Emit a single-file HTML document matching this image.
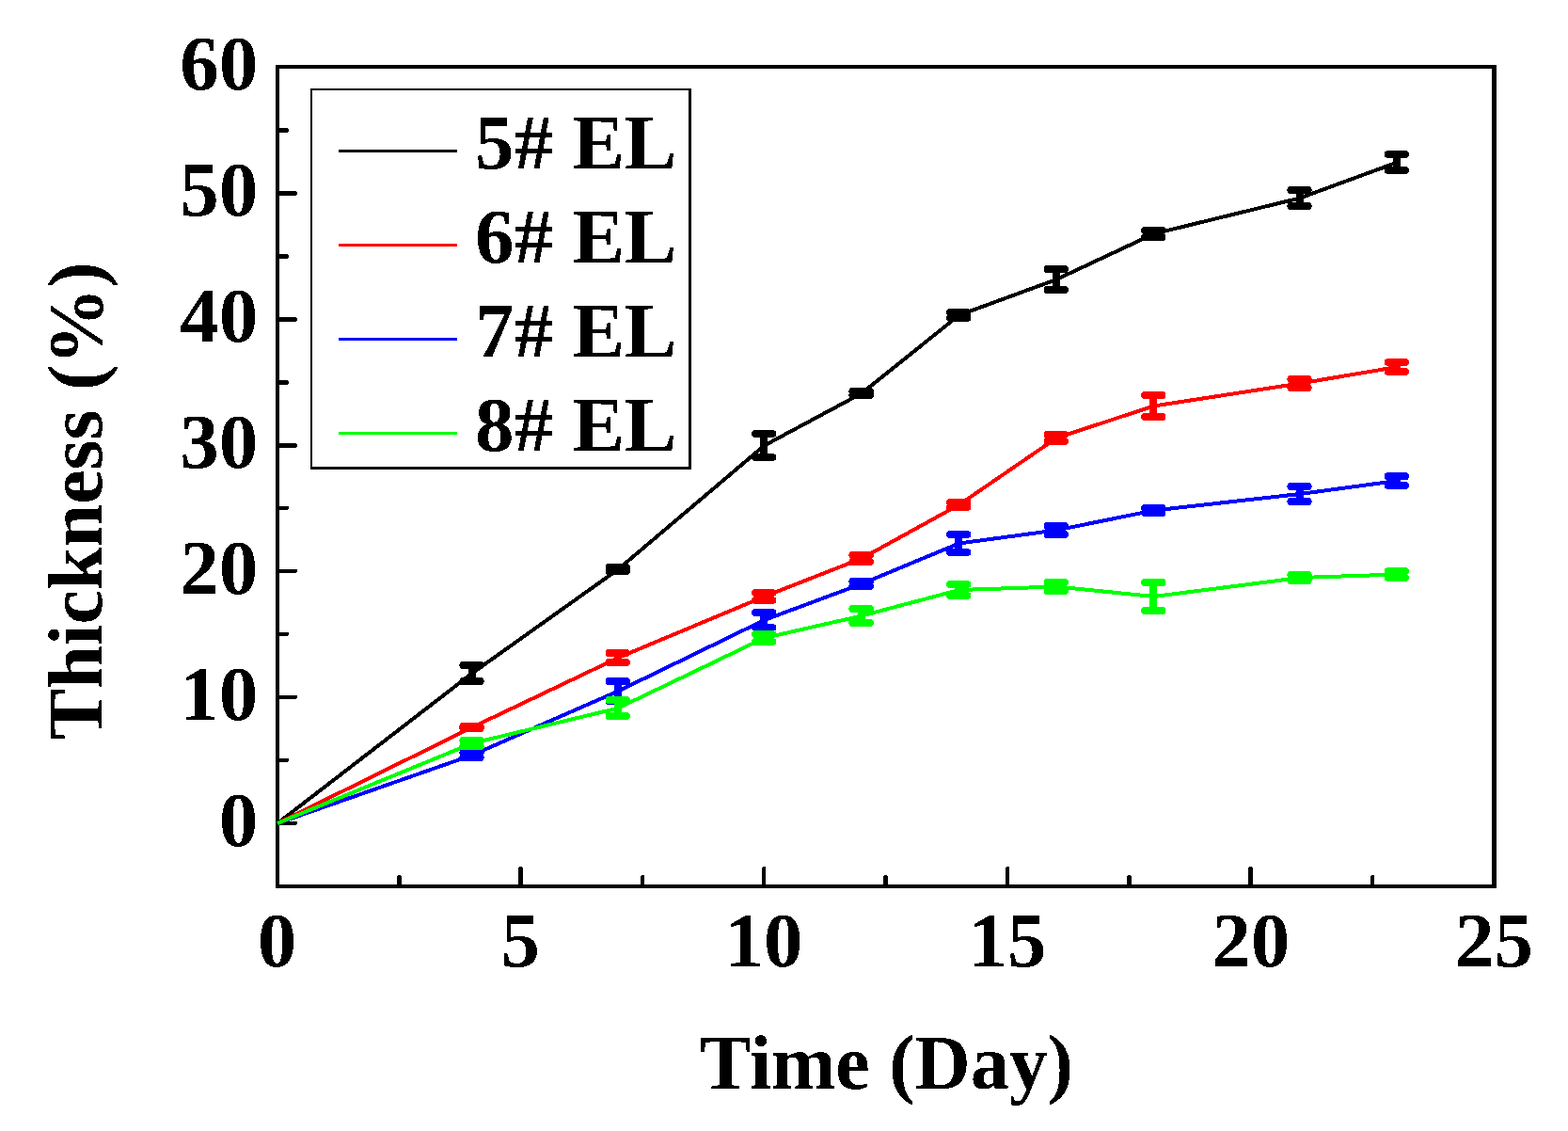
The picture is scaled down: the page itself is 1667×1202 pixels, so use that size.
<!DOCTYPE html>
<html lang="en"><head><meta charset="utf-8"><title>Thickness (%) vs Time (Day)</title>
<style>
html,body{margin:0;padding:0;background:#fff;}
body{width:1667px;height:1202px;overflow:hidden;}
svg{display:block;}
text{font-family:"Liberation Serif",serif;font-weight:bold;fill:#000;}
</style>
</head><body>
<svg width="1667" height="1202" viewBox="0 0 1667 1202" shape-rendering="crispEdges">
<defs><filter id="bw" x="-5%" y="-5%" width="110%" height="110%" color-interpolation-filters="sRGB"><feComponentTransfer><feFuncA type="discrete" tableValues="0 1"/></feComponentTransfer></filter></defs>
<rect x="0" y="0" width="1667" height="1202" fill="#fff"/>
<!-- axis ticks -->
<path d="M296 875H314M296 808H305M296 741H314M296 674H305M296 607H314M296 540H305M683 941V932M812 941V923M1071 941V923M1459 941V932" stroke="#000" stroke-width="4" stroke-linecap="round" fill="none"/>
<path d="M296 473.5H313.5M296 406.5H304.5M296 339.5H313.5M296 272.5H304.5M296 205.5H313.5M296 138.5H304.5M424.5 941V932.5M553.5 941V923.5M941.5 941V932.5M1200.5 941V932.5M1329.5 941V923.5" stroke="#000" stroke-width="5" stroke-linecap="round" fill="none"/>
<!-- plot frame -->
<g fill="#000">
<rect x="293" y="69" width="1298" height="4"/>
<rect x="293" y="940" width="1298" height="4"/>
<rect x="293" y="69" width="4" height="875"/>
<rect x="1586" y="69" width="5" height="875"/>
</g>
<!-- series 5# EL -->
<polyline fill="none" stroke="#000000" stroke-width="4" stroke-linejoin="round" points="295.0,875.0 502.0,715.5 657.3,605.0 812.6,473.5 916.1,418.0 1019.6,335.0 1123.2,297.0 1226.7,248.5 1382.0,210.5 1485.5,172.5"/>
<g fill="#000000">
<rect x="488.3" y="703.0" width="26.4" height="8" rx="4" ry="4"/>
<rect x="488.3" y="720.0" width="26.4" height="8" rx="4" ry="4"/>
<rect x="497.5" y="707.0" width="8" height="17.0"/>
<rect x="643.6" y="599.0" width="26.4" height="8" rx="4" ry="4"/>
<rect x="643.6" y="603.0" width="26.4" height="8" rx="4" ry="4"/>
<rect x="652.8" y="603.0" width="8" height="4.0"/>
<rect x="798.9" y="457.0" width="26.4" height="8" rx="4" ry="4"/>
<rect x="798.9" y="482.0" width="26.4" height="8" rx="4" ry="4"/>
<rect x="808.1" y="461.0" width="8" height="25.0"/>
<rect x="902.4" y="412.0" width="26.4" height="8" rx="4" ry="4"/>
<rect x="902.4" y="416.0" width="26.4" height="8" rx="4" ry="4"/>
<rect x="911.6" y="416.0" width="8" height="4.0"/>
<rect x="1005.9" y="328.0" width="26.4" height="8" rx="4" ry="4"/>
<rect x="1005.9" y="334.0" width="26.4" height="8" rx="4" ry="4"/>
<rect x="1015.1" y="332.0" width="8" height="6.0"/>
<rect x="1109.5" y="282.0" width="26.4" height="8" rx="4" ry="4"/>
<rect x="1109.5" y="304.0" width="26.4" height="8" rx="4" ry="4"/>
<rect x="1118.7" y="286.0" width="8" height="22.0"/>
<rect x="1213.0" y="241.0" width="26.4" height="8" rx="4" ry="4"/>
<rect x="1213.0" y="248.0" width="26.4" height="8" rx="4" ry="4"/>
<rect x="1222.2" y="245.0" width="8" height="7.0"/>
<rect x="1368.3" y="198.0" width="26.4" height="8" rx="4" ry="4"/>
<rect x="1368.3" y="215.0" width="26.4" height="8" rx="4" ry="4"/>
<rect x="1377.5" y="202.0" width="8" height="17.0"/>
<rect x="1471.8" y="160.0" width="26.4" height="8" rx="4" ry="4"/>
<rect x="1471.8" y="177.0" width="26.4" height="8" rx="4" ry="4"/>
<rect x="1481.0" y="164.0" width="8" height="17.0"/>
</g>
<!-- series 6# EL -->
<polyline fill="none" stroke="#ff0000" stroke-width="4" stroke-linejoin="round" points="295.0,875.0 502.0,773.0 657.3,699.0 812.6,634.0 916.1,593.5 1019.6,536.5 1123.2,465.5 1226.7,431.5 1382.0,407.5 1485.5,390.0"/>
<g fill="#ff0000">
<rect x="488.3" y="768.0" width="26.4" height="8" rx="4" ry="4"/>
<rect x="488.3" y="770.0" width="26.4" height="8" rx="4" ry="4"/>
<rect x="497.5" y="772.0" width="8" height="2.0"/>
<rect x="643.6" y="690.0" width="26.4" height="8" rx="4" ry="4"/>
<rect x="643.6" y="700.0" width="26.4" height="8" rx="4" ry="4"/>
<rect x="652.8" y="694.0" width="8" height="10.0"/>
<rect x="798.9" y="626.0" width="26.4" height="8" rx="4" ry="4"/>
<rect x="798.9" y="634.0" width="26.4" height="8" rx="4" ry="4"/>
<rect x="808.1" y="630.0" width="8" height="8.0"/>
<rect x="902.4" y="586.0" width="26.4" height="8" rx="4" ry="4"/>
<rect x="902.4" y="593.0" width="26.4" height="8" rx="4" ry="4"/>
<rect x="911.6" y="590.0" width="8" height="7.0"/>
<rect x="1005.9" y="530.0" width="26.4" height="8" rx="4" ry="4"/>
<rect x="1005.9" y="535.0" width="26.4" height="8" rx="4" ry="4"/>
<rect x="1015.1" y="534.0" width="8" height="5.0"/>
<rect x="1109.5" y="458.0" width="26.4" height="8" rx="4" ry="4"/>
<rect x="1109.5" y="465.0" width="26.4" height="8" rx="4" ry="4"/>
<rect x="1118.7" y="462.0" width="8" height="7.0"/>
<rect x="1213.0" y="416.0" width="26.4" height="8" rx="4" ry="4"/>
<rect x="1213.0" y="439.0" width="26.4" height="8" rx="4" ry="4"/>
<rect x="1222.2" y="420.0" width="8" height="23.0"/>
<rect x="1368.3" y="399.0" width="26.4" height="8" rx="4" ry="4"/>
<rect x="1368.3" y="408.0" width="26.4" height="8" rx="4" ry="4"/>
<rect x="1377.5" y="403.0" width="8" height="9.0"/>
<rect x="1471.8" y="381.0" width="26.4" height="8" rx="4" ry="4"/>
<rect x="1471.8" y="391.0" width="26.4" height="8" rx="4" ry="4"/>
<rect x="1481.0" y="385.0" width="8" height="10.0"/>
</g>
<!-- series 7# EL -->
<polyline fill="none" stroke="#0000ff" stroke-width="4" stroke-linejoin="round" points="295.0,875.0 502.0,802.5 657.3,734.5 812.6,659.0 916.1,620.5 1019.6,577.5 1123.2,563.5 1226.7,542.5 1382.0,525.0 1485.5,511.0"/>
<g fill="#0000ff">
<rect x="488.3" y="796.0" width="26.4" height="8" rx="4" ry="4"/>
<rect x="488.3" y="801.0" width="26.4" height="8" rx="4" ry="4"/>
<rect x="497.5" y="800.0" width="8" height="5.0"/>
<rect x="643.6" y="720.0" width="26.4" height="8" rx="4" ry="4"/>
<rect x="643.6" y="741.0" width="26.4" height="8" rx="4" ry="4"/>
<rect x="652.8" y="724.0" width="8" height="21.0"/>
<rect x="798.9" y="647.0" width="26.4" height="8" rx="4" ry="4"/>
<rect x="798.9" y="663.0" width="26.4" height="8" rx="4" ry="4"/>
<rect x="808.1" y="651.0" width="8" height="16.0"/>
<rect x="902.4" y="614.0" width="26.4" height="8" rx="4" ry="4"/>
<rect x="902.4" y="619.0" width="26.4" height="8" rx="4" ry="4"/>
<rect x="911.6" y="618.0" width="8" height="5.0"/>
<rect x="1005.9" y="564.0" width="26.4" height="8" rx="4" ry="4"/>
<rect x="1005.9" y="583.0" width="26.4" height="8" rx="4" ry="4"/>
<rect x="1015.1" y="568.0" width="8" height="19.0"/>
<rect x="1109.5" y="555.0" width="26.4" height="8" rx="4" ry="4"/>
<rect x="1109.5" y="564.0" width="26.4" height="8" rx="4" ry="4"/>
<rect x="1118.7" y="559.0" width="8" height="9.0"/>
<rect x="1213.0" y="536.0" width="26.4" height="8" rx="4" ry="4"/>
<rect x="1213.0" y="541.0" width="26.4" height="8" rx="4" ry="4"/>
<rect x="1222.2" y="540.0" width="8" height="5.0"/>
<rect x="1368.3" y="513.0" width="26.4" height="8" rx="4" ry="4"/>
<rect x="1368.3" y="529.0" width="26.4" height="8" rx="4" ry="4"/>
<rect x="1377.5" y="517.0" width="8" height="16.0"/>
<rect x="1471.8" y="502.0" width="26.4" height="8" rx="4" ry="4"/>
<rect x="1471.8" y="512.0" width="26.4" height="8" rx="4" ry="4"/>
<rect x="1481.0" y="506.0" width="8" height="10.0"/>
</g>
<!-- series 8# EL -->
<polyline fill="none" stroke="#00ff00" stroke-width="4" stroke-linejoin="round" points="295.0,875.0 502.0,790.0 657.3,752.5 812.6,678.0 916.1,654.5 1019.6,627.0 1123.2,623.5 1226.7,634.0 1382.0,614.0 1485.5,610.5"/>
<g fill="#00ff00">
<rect x="488.3" y="783.0" width="26.4" height="8" rx="4" ry="4"/>
<rect x="488.3" y="789.0" width="26.4" height="8" rx="4" ry="4"/>
<rect x="497.5" y="787.0" width="8" height="6.0"/>
<rect x="643.6" y="740.0" width="26.4" height="8" rx="4" ry="4"/>
<rect x="643.6" y="757.0" width="26.4" height="8" rx="4" ry="4"/>
<rect x="652.8" y="744.0" width="8" height="17.0"/>
<rect x="798.9" y="670.0" width="26.4" height="8" rx="4" ry="4"/>
<rect x="798.9" y="678.0" width="26.4" height="8" rx="4" ry="4"/>
<rect x="808.1" y="674.0" width="8" height="8.0"/>
<rect x="902.4" y="643.0" width="26.4" height="8" rx="4" ry="4"/>
<rect x="902.4" y="658.0" width="26.4" height="8" rx="4" ry="4"/>
<rect x="911.6" y="647.0" width="8" height="15.0"/>
<rect x="1005.9" y="617.0" width="26.4" height="8" rx="4" ry="4"/>
<rect x="1005.9" y="629.0" width="26.4" height="8" rx="4" ry="4"/>
<rect x="1015.1" y="621.0" width="8" height="12.0"/>
<rect x="1109.5" y="615.0" width="26.4" height="8" rx="4" ry="4"/>
<rect x="1109.5" y="624.0" width="26.4" height="8" rx="4" ry="4"/>
<rect x="1118.7" y="619.0" width="8" height="9.0"/>
<rect x="1213.0" y="615.0" width="26.4" height="8" rx="4" ry="4"/>
<rect x="1213.0" y="645.0" width="26.4" height="8" rx="4" ry="4"/>
<rect x="1222.2" y="619.0" width="8" height="30.0"/>
<rect x="1368.3" y="607.0" width="26.4" height="8" rx="4" ry="4"/>
<rect x="1368.3" y="613.0" width="26.4" height="8" rx="4" ry="4"/>
<rect x="1377.5" y="611.0" width="8" height="6.0"/>
<rect x="1471.8" y="603.0" width="26.4" height="8" rx="4" ry="4"/>
<rect x="1471.8" y="610.0" width="26.4" height="8" rx="4" ry="4"/>
<rect x="1481.0" y="607.0" width="8" height="7.0"/>
</g>
<!-- tick labels -->
<g font-size="83" text-anchor="end" filter="url(#bw)">
<text x="274.3" y="898.5">0</text>
<text x="274.3" y="764.5">10</text>
<text x="274.3" y="630.5">20</text>
<text x="274.3" y="496.5">30</text>
<text x="274.3" y="362.5">40</text>
<text x="274.3" y="228.5">50</text>
<text x="274.3" y="94.5">60</text>
</g>
<g font-size="83" text-anchor="middle" filter="url(#bw)">
<text x="294.5" y="1026.5">0</text>
<text x="553.3" y="1026.5">5</text>
<text x="812.1" y="1026.5">10</text>
<text x="1070.9" y="1026.5">15</text>
<text x="1329.7" y="1026.5">20</text>
<text x="1588.5" y="1026.5">25</text>
</g>
<!-- axis titles -->
<g font-size="82" text-anchor="middle" filter="url(#bw)">
<text x="942.5" y="1157">Time (Day)</text>
<text transform="translate(108 532.5) rotate(-90)">Thickness (%)</text>
</g>
<!-- legend -->
<rect x="331" y="95" width="402" height="402" fill="#fff"/>
<g fill="#000">
<rect x="330" y="94" width="405" height="2"/>
<rect x="330" y="94" width="2" height="405"/>
<rect x="330" y="496" width="405" height="3"/>
<rect x="732" y="94" width="3" height="405"/>
</g>
<rect x="360" y="159" width="126" height="3" fill="#000000"/>
<rect x="360" y="259" width="126" height="3" fill="#ff0000"/>
<rect x="360" y="359" width="126" height="3" fill="#0000ff"/>
<rect x="360" y="459" width="126" height="3" fill="#00ff00"/>
<g font-size="83" filter="url(#bw)">
<text x="505" y="179.0">5# EL</text>
<text x="505" y="279.0">6# EL</text>
<text x="505" y="379.0">7# EL</text>
<text x="505" y="479.0">8# EL</text>
</g>
</svg>
</body></html>
